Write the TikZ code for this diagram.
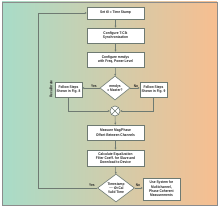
\documentclass[tikz,border=0pt]{standalone}
\usepackage{fontspec}
\setmainfont[FakeStretch=0.85]{Liberation Sans}
\usetikzlibrary{shapes.geometric,arrows.meta}
\definecolor{mint}{HTML}{A8DCC8}
\definecolor{paley}{HTML}{E8E2B2}
\definecolor{peach}{HTML}{F7BE90}
\definecolor{lnc}{HTML}{6E7A72}
\begin{document}
\begin{tikzpicture}[x=1pt,y=-1pt,
  txt/.style={font=\fontsize{3.8}{4.3}\selectfont\bfseries, text=black!85},
  box/.style={txt, draw=lnc, fill=white, line width=0.6pt, align=center, inner sep=0.5pt},
  dia/.style={txt, draw=lnc, fill=white, line width=0.6pt, align=center, shape=diamond, inner sep=0pt},
  conn/.style={draw=lnc, line width=0.5pt},
  arr/.style={conn, -{Stealth[length=2pt,width=2pt]}},
  lbl/.style={txt, inner sep=0.5pt}]
\useasboundingbox (0,0) rectangle (220,208);
\shade[left color=mint, middle color=paley, right color=peach, draw=black!45, line width=0.5pt] (2,2) rectangle (217,205);
\node[box, minimum width=57pt, minimum height=12pt] (b1) at (115.5,13) {Set t0 = Time Stamp};
\node[box, minimum width=57pt, minimum height=15pt] (b2) at (115.5,35.5) {Configure T-Clk\\Synchronization};
\node[box, minimum width=57pt, minimum height=15pt] (b3) at (115.5,59.5) {Configure mmdys\\with Freq, Power Level};
\node[dia, minimum width=30pt, minimum height=24pt, shape aspect=1.25] (d1) at (115,88) {mmdys\\= Master?};
\node[box, minimum width=27pt, minimum height=15pt] (fl) at (68.5,89.5) {Follow Steps\\Shown in Fig. 8};
\node[box, minimum width=27pt, minimum height=15pt] (fr) at (153.5,89.5) {Follow Steps\\Shown in Fig. 9};
\node[circle, draw=lnc, fill=white, line width=0.6pt, minimum size=10pt, inner sep=0pt] (m) at (115,111) {};
\draw[conn] (m.north west) -- (m.south east) (m.north east) -- (m.south west);
\node[box, minimum width=57pt, minimum height=15pt] (b4) at (115.5,132.5) {Measure Mag/Phase\\Offset Between Channels};
\node[box, minimum width=57pt, minimum height=16pt] (b5) at (115.5,158) {Calculate Equalization\\Filter Coeff. for Slave and\\Download to Device};
\node[dia, minimum width=37pt, minimum height=28pt, shape aspect=1.3] (d2) at (116,188) {Timestamp\\$-$t0<Cal\\Valid Time};
\node[box, minimum width=37pt, minimum height=22pt] (ub) at (161.5,189) {Use System for\\Multichannel,\\Phase Coherent\\Measurements};
\coordinate (lc1) at (38,188);
\coordinate (lc2) at (38,13);
\draw[arr] (b1) -- (b2);
\draw[arr] (b2) -- (b3);
\draw[arr] (b3) -- (d1);
\draw[arr] (d1.west) -- (fl.east |- d1.west);
\draw[arr] (d1.east) -- (fr.west |- d1.east);
\draw[arr] (fl.south) |- (m.west);
\draw[arr] (fr.south) |- (m.east);
\draw[arr] (m) -- (b4);
\draw[arr] (b4) -- (b5);
\draw[arr] (b5) -- (d2);
\draw[arr] (d2.east) -- (ub.west |- d2.east);
\draw[arr] (d2.west) -- (lc1) -- (lc2) -- (b1.west);
\node[lbl, anchor=south] (yes1) at (94,88) {Yes};
\node[lbl, anchor=south] (no1) at (136,88) {No};
\node[lbl, anchor=south] (yes2) at (92,187.5) {Yes};
\node[lbl, anchor=south] (no2) at (138,187.5) {No};
\node[lbl, rotate=90] (rc) at (51,89) {Recalibrate};
\end{tikzpicture}
\end{document}
